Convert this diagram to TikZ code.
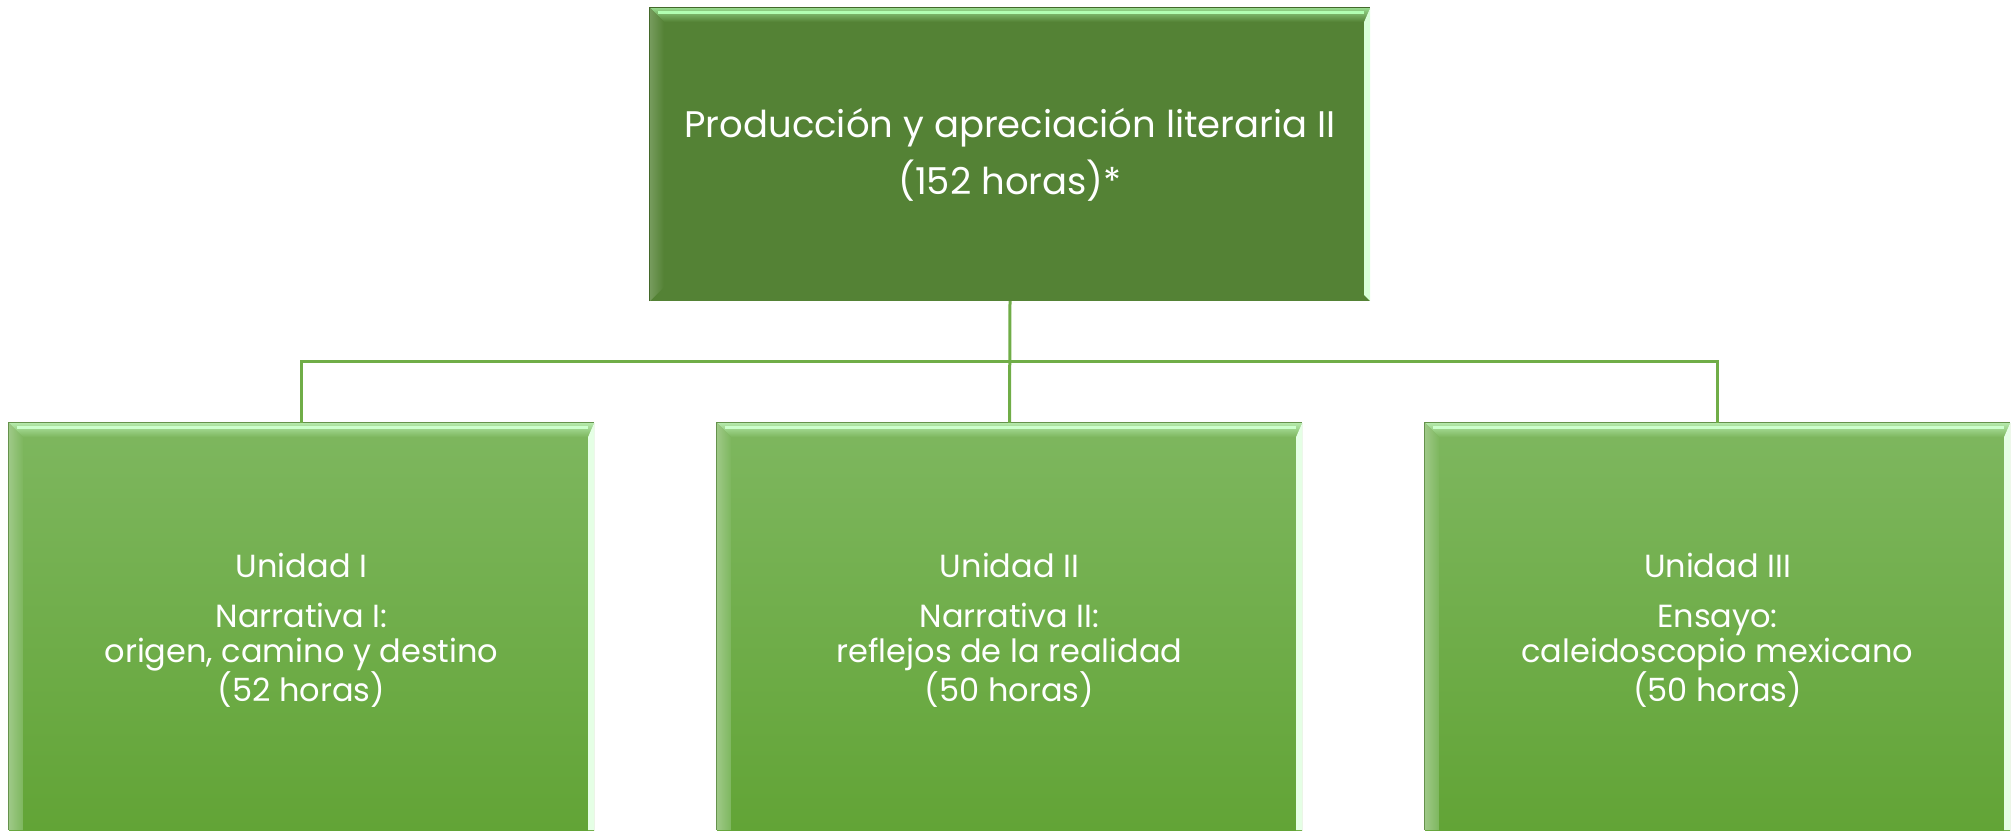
\documentclass[tikz,border=0pt]{standalone}
\usepackage{fontspec}
\setmainfont{Poppins}
\definecolor{topg}{HTML}{548235}
\definecolor{unitA}{HTML}{7EB75F}
\definecolor{unitB}{HTML}{62A436}
\definecolor{conn}{HTML}{70AD47}
\newcommand\bevelbox[6]{%
  % #1 name, #2 top band light, #3 body, #4 left band, #5 right strip, #6 draw bottom (1/0)
  \shade[top color=#2!70!#3, bottom color=#3]
    (#1.north west) -- (#1.north east) -- ([shift={(-6,14)}]#1.north east)
    -- ([shift={(14,14)}]#1.north west) -- cycle;
  \draw[#2, line width=3pt] ([shift={(8,5)}]#1.north west) -- ([shift={(-6,5)}]#1.north east);
  \shade[left color=#4, right color=#3]
    (#1.north west) -- ([shift={(14,14)}]#1.north west)
    -- ([shift={(14,-14*#6)}]#1.south west) -- (#1.south west) -- cycle;
  \fill[#5]
    (#1.north east) -- ([shift={(-6,14)}]#1.north east)
    -- ([shift={(-6,-6*#6)}]#1.south east) -- (#1.south east) -- cycle;
  \draw[#3!80!black, line width=1pt] (#1.south west) -- (#1.north west) -- (#1.north east);
}
\begin{document}
\begin{tikzpicture}[x=1pt,y=-1pt,
  topbox/.style={rectangle, inner sep=0pt, fill=topg, text=white,
    minimum width=720pt, minimum height=293pt, align=center,
    font=\fontsize{37}{57}\selectfont},
  unitbox/.style={rectangle, inner sep=0pt, top color=unitA, bottom color=unitB,
    minimum width=585pt, minimum height=407pt},
  unittext/.style={text=white, align=center, font=\fontsize{32}{35}\selectfont},
  link/.style={draw=conn, line width=3pt}]
\useasboundingbox (0,0) rectangle (2013,830);
\node[topbox] (top) at (1010,154.5) {Producción y apreciación literaria II\\(152 horas)*};
\node[unitbox] (u1) at (301.5,626.5) {};
\node[unitbox] (u2) at (1009.5,626.5) {};
\node[unitbox] (u3) at (1717.5,626.5) {};
\bevelbox{top}{green!30!white}{topg}{topg!80!white}{green!15!white}{1}
\bevelbox{u1}{green!20!white}{unitA}{unitA!75!white}{green!10!white}{0}
\bevelbox{u2}{green!20!white}{unitA}{unitA!75!white}{green!10!white}{0}
\bevelbox{u3}{green!20!white}{unitA}{unitA!75!white}{green!10!white}{0}
\node[unittext] (t1) at ([yshift=-4pt]u1.center)
  {Unidad I\\[15pt]Narrativa I:\\origen, camino y destino\\(52 horas)};
\node[unittext] (t2) at ([yshift=-4pt]u2.center)
  {Unidad II\\[15pt]Narrativa II:\\reflejos de la realidad\\(50 horas)};
\node[unittext] (t3) at ([yshift=-4pt]u3.center)
  {Unidad III\\[15pt]Ensayo:\\caleidoscopio mexicano\\(50 horas)};
\coordinate (j) at (1010,361);
\draw[link] (u1.north) |- (j) -| (u3.north);
\draw[link] (top.south) -- (u2.north);
\end{tikzpicture}
\end{document}
